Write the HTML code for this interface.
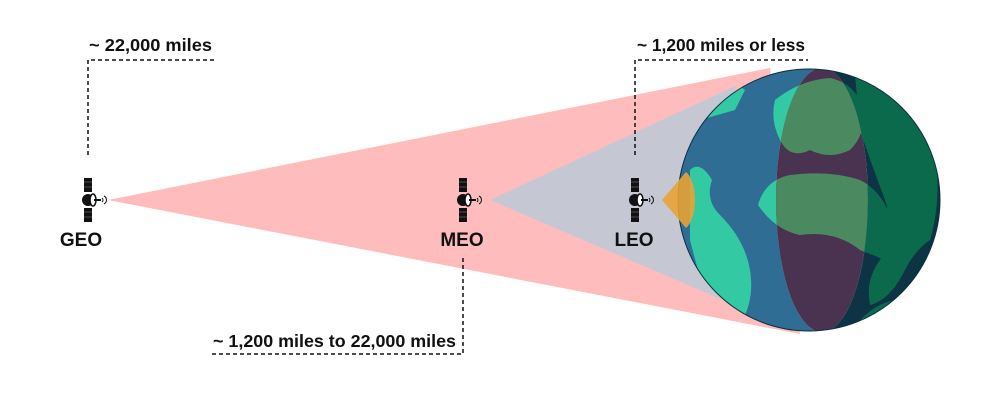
<!DOCTYPE html>
<html><head><meta charset="utf-8"><style>
body{margin:0;background:#fff;}
svg{display:block}
text{font-family:"Liberation Sans",sans-serif;font-weight:bold;fill:#111;}
</style></head><body>
<svg width="1000" height="401" viewBox="0 0 1000 401" xmlns="http://www.w3.org/2000/svg">
<defs>
<g id="sat">
<rect x="-4" y="-22" width="8" height="14" fill="#111"/>
<rect x="-4" y="8" width="8" height="14" fill="#111"/>
<line x1="-4" y1="-18" x2="4" y2="-18" stroke="#777" stroke-width="0.6"/>
<line x1="-4" y1="-13" x2="4" y2="-13" stroke="#777" stroke-width="0.6"/>
<line x1="-4" y1="12" x2="4" y2="12" stroke="#777" stroke-width="0.6"/>
<line x1="-4" y1="17" x2="4" y2="17" stroke="#777" stroke-width="0.6"/>
<circle cx="0" cy="0" r="6" fill="#111"/>
<ellipse cx="5" cy="0" rx="3" ry="6" fill="#fff" stroke="#111" stroke-width="1.5"/>
<line x1="6" y1="0" x2="13" y2="0" stroke="#111" stroke-width="2"/>
<path d="M14,-2 a2.5,2.5 0 0 1 0,4 M16,-4 a4.5,4.5 0 0 1 0,8" fill="none" stroke="#111" stroke-width="1"/>
</g>
<clipPath id="gc"><circle cx="809" cy="200" r="131"/></clipPath>
<clipPath id="cl"><path d="M670,60 L822,60 L822,68 A46,132 0 0 0 822,332 L822,340 L670,340 Z"/></clipPath>
<clipPath id="cm"><ellipse cx="822" cy="200" rx="46" ry="132"/></clipPath>
<clipPath id="cr"><path d="M822,60 L950,60 L950,340 L822,340 L822,332 A46,132 0 0 0 822,68 Z"/></clipPath>
<path id="land" d="M700,85 Q725,75 745,90 L735,110 L700,120 Z
M690,170 Q700,160 712,180 Q705,200 720,215 Q745,240 750,270 Q755,300 740,325 L715,325 Q700,280 690,240 Z
M775,100 Q800,80 830,78 Q850,82 860,100 Q870,130 850,150 Q830,160 810,150 Q790,160 780,140 Q770,120 775,100 Z
M758,205 Q765,180 790,175 Q830,170 860,180 Q880,190 890,215 Q900,240 885,260 L860,250 Q835,230 800,235 Q775,230 758,205 Z
M855,75 Q910,95 935,150 Q942,200 930,240 Q915,250 905,270 Q890,300 870,305 Q865,280 880,260 Q895,230 885,200 Q870,160 860,130 Z
M860,320 Q880,300 900,300 L890,330 Z"/>
</defs>
<polygon points="108,200 770,68 800,334" fill="#ffbcbc"/>
<polygon points="490,200 735,86 760,316" fill="#c5c8d3"/>
<g clip-path="url(#gc)">
<g clip-path="url(#cl)">
<rect x="670" y="60" width="160" height="280" fill="#2f6d94"/>
<use href="#land" fill="#33c9a2"/>
</g>
<g clip-path="url(#cm)">
<rect x="770" y="60" width="110" height="280" fill="#4a3350"/>
<use href="#land" fill="#4b8a60"/>
</g>
<g clip-path="url(#cr)">
<rect x="820" y="60" width="130" height="280" fill="#0c3444"/>
<use href="#land" fill="#0b6a4c"/>
</g>
</g>
<circle cx="809" cy="200" r="131" fill="none" stroke="#0a3040" stroke-width="1"/>
<path d="M662,200 L686,172 A14,30 0 0 1 686,228 Z" fill="#e9a234" opacity="0.9"/>
<g stroke="#111" stroke-width="1.5" stroke-dasharray="4,3" fill="none">
<path d="M88,155 L88,60 L215,60"/>
<path d="M635,155 L635,60 L808,60"/>
<path d="M463,258 L463,354 L212,354"/>
</g>
<text x="89" y="51" font-size="17.5" textLength="123" lengthAdjust="spacingAndGlyphs">~ 22,000 miles</text>
<text x="637" y="51" font-size="17.5" textLength="168" lengthAdjust="spacingAndGlyphs">~ 1,200 miles or less</text>
<text x="213" y="347" font-size="17.5" textLength="243" lengthAdjust="spacingAndGlyphs">~ 1,200 miles to 22,000 miles</text>
<use href="#sat" x="88" y="200"/>
<use href="#sat" x="463" y="200"/>
<use href="#sat" x="635" y="200"/>
<text x="81" y="246" font-size="19" text-anchor="middle">GEO</text>
<text x="462" y="246" font-size="19" text-anchor="middle">MEO</text>
<text x="634" y="246" font-size="19" text-anchor="middle">LEO</text>
</svg>
</body></html>
